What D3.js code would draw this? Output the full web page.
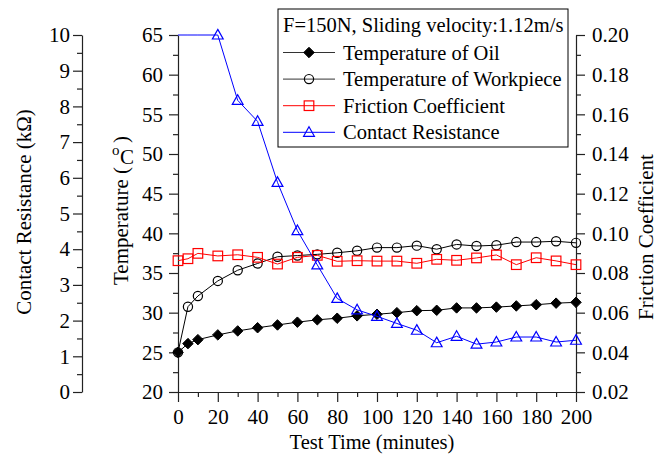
<!DOCTYPE html>
<html>
<head>
<meta charset="utf-8">
<script src="https://cdn.jsdelivr.net/npm/d3@7"></script>
<style>
  html, body { margin: 0; padding: 0; background: #fff; }
  svg { display: block; }
  text { font-family: "Liberation Serif", "Times New Roman", serif; fill: #000; }
</style>
</head>
<body>
<svg id="chart" width="657" height="455"></svg>
<script>
// Test time in minutes
const time = [0, 5, 10, 20, 30, 40, 50, 60, 70, 80, 90, 100, 110, 120, 130, 140, 150, 160, 170, 180, 190, 200];
// Oil temperature (°C)
const oilTemp = [25.0, 26.1, 26.6, 27.2, 27.7, 28.1, 28.45, 28.8, 29.1, 29.3, 29.6, 29.8, 30.0, 30.25, 30.3, 30.6, 30.6, 30.7, 30.85, 31.0, 31.2, 31.3];
// Workpiece temperature (°C)
const workTemp = [25.0, 30.75, 32.1, 34.0, 35.35, 36.2, 37.05, 37.2, 37.35, 37.55, 37.8, 38.2, 38.2, 38.45, 38.0, 38.6, 38.4, 38.5, 38.9, 38.9, 39.0, 38.8];
// Friction coefficient
const friction = [0.0862, 0.0872, 0.0899, 0.0886, 0.0892, 0.0879, 0.0845, 0.0879, 0.0889, 0.0859, 0.0862, 0.0860, 0.0860, 0.0849, 0.0869, 0.0864, 0.0876, 0.0891, 0.0842, 0.0877, 0.0861, 0.0842];
// Contact resistance (kΩ); the first readings lie above the axis range
const resistance = [12.5, 13.0, 11.5, 10.0, 8.17, 7.58, 5.87, 4.52, 3.56, 2.62, 2.30, 2.12, 1.92, 1.73, 1.38, 1.56, 1.34, 1.40, 1.54, 1.54, 1.40, 1.45];

const xTicks = [0, 20, 40, 60, 80, 100, 120, 140, 160, 180, 200];
const tempTicks = [20, 25, 30, 35, 40, 45, 50, 55, 60, 65];
const frictionTicks = [0.02, 0.04, 0.06, 0.08, 0.10, 0.12, 0.14, 0.16, 0.18, 0.20];
const resistanceTicks = [0, 1, 2, 3, 4, 5, 6, 7, 8, 9, 10];

const legendTitle = "F=150N, Sliding velocity:1.12m/s";
const seriesNames = ["Temperature of Oil", "Temperature of Workpiece", "Friction Coefficient", "Contact Resistance"];

const svg = d3.select("#chart");
const FS = 21;      // tick labels and axis titles
const FS_LEG = 20.5; // legend text

const L = 178, R = 576, T = 35, B = 392;
const resAxisX = 82;

const x = d3.scaleLinear().domain([0, 200]).range([L, R]);
const yT = d3.scaleLinear().domain([20, 65]).range([B, T]);
const yF = d3.scaleLinear().domain([0.02, 0.20]).range([B, T]);
const yR = d3.scaleLinear().domain([0, 10]).range([B, T]).clamp(true);

function styleAxis(g) {
  g.selectAll("path.domain").attr("stroke", "#222").attr("stroke-width", 1.2);
  g.selectAll(".tick line").attr("stroke", "#222").attr("stroke-width", 1.2);
  g.selectAll(".tick text")
    .style("font-family", '"Liberation Serif", "Times New Roman", serif')
    .style("font-size", FS + "px")
    .attr("fill", "#000");
}
function minorVals(lo, hi, step) {
  const out = [];
  for (let v = lo + step / 2; v < hi; v += step) out.push(+v.toFixed(4));
  return out;
}

// Bottom axis
const gx = svg.append("g").attr("transform", `translate(0,${B})`);
gx.call(d3.axisBottom(x).tickValues(xTicks).tickFormat(d3.format("d")).tickSize(10).tickSizeOuter(0).tickPadding(7));
gx.append("g").call(d3.axisBottom(x).tickValues(minorVals(0, 200, 20)).tickFormat("").tickSize(5).tickSizeOuter(0))
  .select("path.domain").remove();
styleAxis(gx);

// Temperature axis
const gT = svg.append("g").attr("transform", `translate(${L},0)`);
gT.call(d3.axisLeft(yT).tickValues(tempTicks).tickFormat(d3.format("d")).tickSize(9).tickSizeOuter(0).tickPadding(6));
gT.append("g").call(d3.axisLeft(yT).tickValues(minorVals(20, 65, 5)).tickFormat("").tickSize(5).tickSizeOuter(0))
  .select("path.domain").remove();
styleAxis(gT);

// Friction axis
const gF = svg.append("g").attr("transform", `translate(${R},0)`);
gF.call(d3.axisRight(yF).tickValues(frictionTicks).tickFormat(d3.format(".2f")).tickSize(9).tickSizeOuter(0).tickPadding(7));
gF.append("g").call(d3.axisRight(yF).tickValues(minorVals(0.02, 0.20, 0.02)).tickFormat("").tickSize(5).tickSizeOuter(0))
  .select("path.domain").remove();
styleAxis(gF);

// Contact resistance axis
const gR = svg.append("g").attr("transform", `translate(${resAxisX},0)`);
gR.call(d3.axisLeft(yR).tickValues(resistanceTicks).tickFormat(d3.format("d")).tickSize(9).tickSizeOuter(0).tickPadding(3));
gR.append("g").call(d3.axisLeft(yR).tickValues(minorVals(0, 10, 1)).tickFormat("").tickSize(5).tickSizeOuter(0))
  .select("path.domain").remove();
styleAxis(gR);

// Axis titles
svg.append("text").attr("x", 372).attr("y", 448.5).attr("text-anchor", "middle")
  .style("font-size", "20.5px").text("Test Time (minutes)");
svg.append("text").attr("transform", "translate(31,212) rotate(-90)").attr("text-anchor", "middle")
  .style("font-size", FS + "px").text("Contact Resistance (kΩ)");
svg.append("text").attr("transform", "translate(128,167) rotate(-90)").attr("text-anchor", "end")
  .style("font-size", FS + "px").text("Temperature (");
svg.append("text").attr("x", 112).attr("y", 155).style("font-size", "15px").text("o");
svg.append("text").attr("x", 120).attr("y", 164).style("font-size", FS + "px").text("C");
svg.append("text").attr("transform", "translate(128,136) rotate(-90)").attr("text-anchor", "end")
  .style("font-size", FS + "px").text(")");
svg.append("text").attr("transform", "translate(653,237) rotate(-90)").attr("text-anchor", "middle")
  .style("font-size", FS + "px").text("Friction Coefficient");

// Series definitions
const series = [
  { name: seriesNames[0], vals: oilTemp, y: yT, color: "#000", marker: "diamond" },
  { name: seriesNames[1], vals: workTemp, y: yT, color: "#000", marker: "circle" },
  { name: seriesNames[2], vals: friction, y: yF, color: "#ff0000", marker: "square" },
  { name: seriesNames[3], vals: resistance, y: yR, color: "#0000ff", marker: "triangle" }
];

function drawMarker(g, type, color) {
  if (type === "diamond") {
    g.append("path").attr("d", d3.symbol(d3.symbolDiamond2, 70)())
      .attr("fill", "#000").attr("stroke", "#000").attr("stroke-width", 1);
  } else if (type === "circle") {
    g.append("circle").attr("r", 4.6).attr("fill", "none").attr("stroke", color).attr("stroke-width", 1.2);
  } else if (type === "square") {
    g.append("rect").attr("x", -4.8).attr("y", -4.8).attr("width", 9.6).attr("height", 9.6)
      .attr("fill", "none").attr("stroke", color).attr("stroke-width", 1.2);
  } else if (type === "triangle") {
    g.append("path").attr("d", "M0,-5.6L5.4,4L-5.4,4Z")
      .attr("fill", "none").attr("stroke", color).attr("stroke-width", 1.2);
  }
}

const plot = svg.append("g");
series.forEach(s => {
  const pts = time.map((t, i) => ({ t, v: s.vals[i] }));
  const line = d3.line().x(d => x(d.t)).y(d => s.y(d.v));
  plot.append("path").datum(pts).attr("d", line)
    .attr("fill", "none").attr("stroke", s.color).attr("stroke-width", 1);
  const [lo, hi] = s.y.domain();
  pts.filter(d => d.v >= lo && d.v <= hi).forEach(d => {
    const m = plot.append("g").attr("transform", `translate(${x(d.t)},${s.y(d.v)})`);
    drawMarker(m, s.marker, s.color);
  });
});

// Legend
const lg = svg.append("g");
lg.append("rect").attr("x", 278).attr("y", 9).attr("width", 290).attr("height", 138)
  .attr("fill", "#fff").attr("stroke", "#000").attr("stroke-width", 1);
lg.append("text").attr("x", 283).attr("y", 32).style("font-size", FS_LEG + "px").text(legendTitle);
series.forEach((s, i) => {
  const cy = 52.5 + i * 26.6;
  lg.append("line").attr("x1", 283).attr("x2", 335).attr("y1", cy).attr("y2", cy)
    .attr("stroke", s.color === "#000" ? "#333" : s.color).attr("stroke-width", 1);
  const m = lg.append("g").attr("transform", `translate(309,${cy})`);
  drawMarker(m, s.marker, s.color);
  lg.append("text").attr("x", 343).attr("y", cy + 7).style("font-size", FS_LEG + "px").text(s.name);
});
</script>
</body>
</html>
